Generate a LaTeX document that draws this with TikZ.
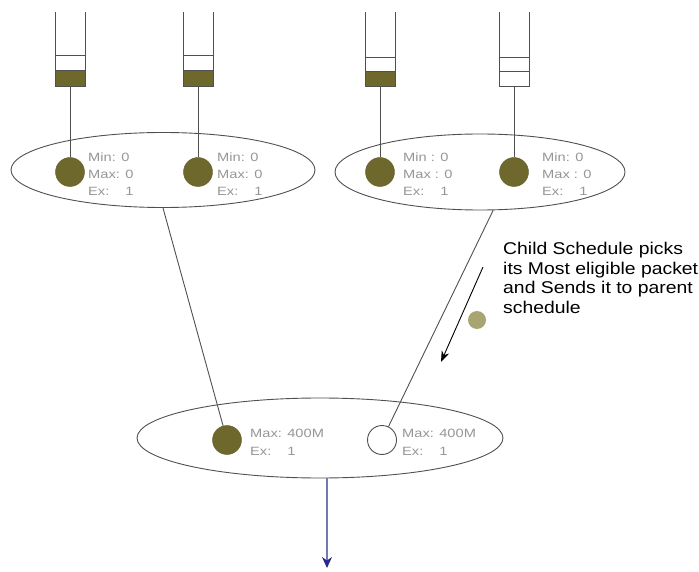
\documentclass[tikz,border=0pt]{standalone}
\usepackage{fontspec}
\setmainfont{Liberation Sans}
\usetikzlibrary{shapes.geometric,arrows.meta}
\definecolor{olive1}{RGB}{110,104,45}
\definecolor{olive2}{RGB}{168,166,112}
\definecolor{linegrey}{RGB}{80,80,80}
\definecolor{txtgrey}{RGB}{150,150,150}
\definecolor{navy1}{RGB}{40,40,140}
\definecolor{navyline}{RGB}{120,120,175}
\newcommand\hstr[1]{\scalebox{1.22}[1]{#1}}
\newcommand\hstrb[1]{\scalebox{1.14}[1]{#1}}
\begin{document}
\begin{tikzpicture}[x=1pt,y=-1pt,
  sched/.style={ellipse,draw=linegrey,line width=0.9pt,inner sep=0},
  pkt/.style={circle,fill=olive1,draw=olive1!85!black,minimum size=29pt,inner sep=0},
  emptypkt/.style={circle,draw=linegrey,line width=0.9pt,fill=white,minimum size=29pt,inner sep=0},
  info/.style={anchor=west,align=left,text=txtgrey,font=\fontsize{12}{17}\selectfont,inner sep=0},
  conn/.style={draw=linegrey,line width=0.9pt},
  qline/.style={draw=linegrey,line width=1pt},
  cell/.style={fill=olive1,draw=linegrey,line width=1pt}
]
\useasboundingbox (0,0) rectangle (699,572);

% queues
\draw[qline] (55,12) -- (55,87) -- (85,87) -- (85,12);
\draw[qline] (55,56) -- (85,56);
\draw[cell] (55,71) rectangle (85,87);
\coordinate (q1) at (70,87);

\draw[qline] (183,12) -- (183,87) -- (213,87) -- (213,12);
\draw[qline] (183,56) -- (213,56);
\draw[cell] (183,71) rectangle (213,87);
\coordinate (q2) at (198,87);

\draw[qline] (365,12) -- (365,87) -- (395,87) -- (395,12);
\draw[qline] (365,58) -- (395,58);
\draw[cell] (365,72) rectangle (395,87);
\coordinate (q3) at (380,87);

\draw[qline] (499,12) -- (499,87) -- (529,87) -- (529,12);
\draw[qline] (499,58) -- (529,58);
\draw[qline] (499,72) -- (529,72);
\coordinate (q4) at (514,87);

% schedules
\node[sched,minimum width=304pt,minimum height=75pt] (e1) at (163,170) {};
\node[sched,minimum width=290pt,minimum height=76pt] (e2) at (480,172) {};
\node[sched,minimum width=366pt,minimum height=80pt] (e3) at (320,438) {};

% packets
\node[pkt] (c1) at (70,172) {};
\node[pkt] (c2) at (198,172) {};
\node[pkt] (c3) at (380,172) {};
\node[pkt] (c4) at (514,172) {};
\node[pkt] (b1) at (227,440) {};
\node[emptypkt] (b2) at (382,440) {};

% info texts
\node[info] (i1) at (88,174) {\hstr{Min: 0}\\\hstr{Max: 0}\\\hstr{Ex:\hspace{1.1em}1}};
\node[info] (i2) at (217,174) {\hstr{Min: 0}\\\hstr{Max: 0}\\\hstr{Ex:\hspace{1.1em}1}};
\node[info] (i3) at (403,174) {\hstr{Min : 0}\\\hstr{Max : 0}\\\hstr{Ex:\hspace{1.1em}1}};
\node[info] (i4) at (542,174) {\hstr{Min: 0}\\\hstr{Max : 0}\\\hstr{Ex:\hspace{1.1em}1}};
\node[info,font=\fontsize{12}{18}\selectfont] (i5) at (250,442) {\hstr{Max: 400M}\\\hstr{Ex:\hspace{1.1em}1}};
\node[info,font=\fontsize{12}{18}\selectfont] (i6) at (402,442) {\hstr{Max: 400M}\\\hstr{Ex:\hspace{1.1em}1}};

% connectors
\draw[conn] (q1) -- (c1);
\draw[conn] (q2) -- (c2);
\draw[conn] (q3) -- (c3);
\draw[conn] (q4) -- (c4);
\draw[conn] (e1.south) -- (b1);
\draw[conn] (e2.-71) -- (b2);

% note
\node[circle,fill=olive2,minimum size=18pt,inner sep=0] (tok) at (477,320) {};
\node[anchor=west,align=left,font=\fontsize{17}{19.7}\selectfont,inner sep=0] (note) at (503,278)
  {\hstrb{Child Schedule picks}\\\hstrb{its Most eligible packet}\\\hstrb{and Sends it to parent}\\\hstrb{schedule}};
\coordinate (a1) at (483,267);
\coordinate (a2) at (441,362);
\draw[conn,draw=black,-{Stealth[length=11pt,width=8pt]}] (a1) -- (a2);

% output
\coordinate (outp) at (327,568);
\draw[navyline,line width=1.2pt,-{Stealth[length=11pt,width=10pt,color=navy1]}] (e3.south -| outp) -- (outp);
\end{tikzpicture}
\end{document}
